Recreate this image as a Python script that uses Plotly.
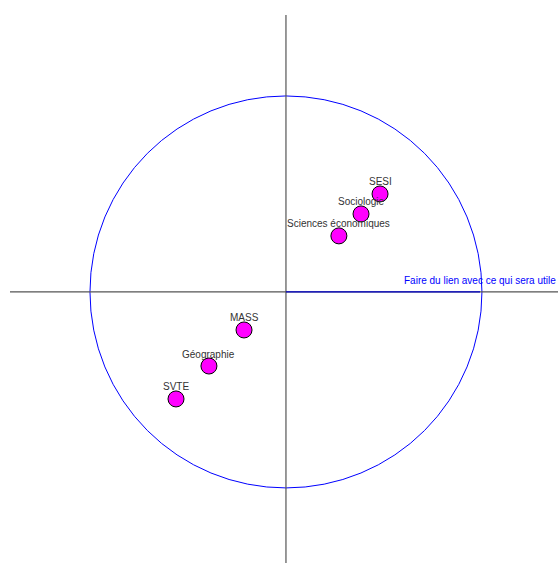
import numpy as np
import plotly.graph_objects as go

labels = ["SESI", "Sociologie", "Sciences économiques", "MASS", "Géographie", "SVTE"]
x_vals = [0.48, 0.383, 0.27, -0.214, -0.393, -0.561]
y_vals = [0.50, 0.398, 0.286, -0.194, -0.378, -0.546]

var_label = "Faire du lien avec ce qui sera utile"
var_x = 0.99
var_y = 0.0

xr = [-1.408, 1.388]
yr = [-1.383, 1.413]

font_fam = "Liberation Sans, Arial"

fig = go.Figure()

# unit circle
fig.add_shape(type="circle", xref="x", yref="y", x0=-1, y0=-1, x1=1, y1=1,
              line=dict(color="#0000ff", width=1))
# axes
fig.add_shape(type="line", x0=xr[0], x1=xr[1], y0=0, y1=0,
              line=dict(color="#555555", width=1.2))
fig.add_shape(type="line", x0=0, x1=0, y0=yr[0], y1=yr[1],
              line=dict(color="#555555", width=1.2))
# variable vector
fig.add_shape(type="line", x0=0, y0=0, x1=var_x, y1=var_y,
              line=dict(color="#0000cc", width=1.2))

fig.add_annotation(x=var_x, y=var_y, text=var_label, showarrow=False,
                   yshift=11, font=dict(family=font_fam, size=10, color="#0000ff"))

fig.add_trace(go.Scatter(
    x=x_vals, y=y_vals, mode="markers",
    marker=dict(size=16, color="#ff00ff", line=dict(color="#000000", width=1)),
    text=labels, hoverinfo="text", showlegend=False,
))

for lx, ly, lt in zip(x_vals, y_vals, labels):
    fig.add_annotation(x=lx, y=ly, text=lt, showarrow=False, yshift=12,
                       font=dict(family=font_fam, size=10, color="#333333"))

fig.update_xaxes(range=xr, visible=False, showgrid=False, zeroline=False)
fig.update_yaxes(range=yr, visible=False, showgrid=False, zeroline=False)
fig.update_layout(width=558, height=563, margin=dict(l=10, r=0, t=15, b=0),
                  plot_bgcolor="white", paper_bgcolor="white")

fig.write_html("out.html", config={"displayModeBar": False},
               post_script="document.body.style.margin='0';document.body.style.overflow='hidden';")
